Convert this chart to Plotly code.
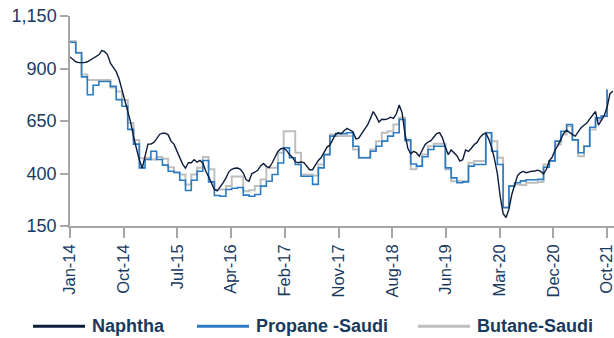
import plotly.graph_objects as go

# Tick labels along the time axis (evenly spaced, every 9.3 months from Jan-14)
tick_labels = ["Jan-14", "Oct-14", "Jul-15", "Apr-16", "Feb-17", "Nov-17",
               "Aug-18", "Jun-19", "Mar-20", "Dec-20", "Oct-21"]
tick_step_months = 9.3

# Naphtha, semi-monthly readings from Jan 2014 ($/t)
naphtha = [
    955, 945, 932, 928, 927, 928, 932, 940, 951, 955, 965, 985, 980, 965, 925, 905,
    885, 850, 800, 740, 695, 645, 575, 515, 465, 425, 490, 540, 540, 548, 565, 586,
    592, 592, 584, 554, 540, 508, 480, 445, 425, 451, 451, 466, 454, 462, 450, 412,
    385, 358, 324, 317, 334, 355, 378, 408, 420, 425, 426, 420, 402, 370, 363, 400,
    406, 415, 436, 448, 434, 428, 450, 480, 505, 518, 520, 510, 490, 478, 457, 451,
    455, 452, 432, 418, 418, 440, 462, 476, 503, 526, 535, 560, 588, 594, 590, 605,
    615, 606, 599, 565, 568, 590, 610, 630, 660, 695, 673, 645, 658, 657, 660, 668,
    662, 683, 726, 690, 590, 520, 494, 505, 498, 482, 512, 538, 550, 556, 574, 590,
    595, 570, 525, 490, 512, 500, 485, 459, 466, 512, 505, 520, 538, 548, 572, 586,
    592, 565, 525, 470, 400, 290, 210, 190, 230, 300, 350, 390, 404, 410, 404, 408,
    411, 412, 416, 410, 398, 420, 460, 478, 512, 534, 560, 592, 606, 595, 585, 578,
    598, 618, 630, 640, 660, 678, 695, 630, 650, 675, 715, 780, 792,
]

# Saudi contract prices, monthly from Jan 2014 ($/t)
propane_saudi = [
    1025, 975, 860, 775, 820, 838, 838, 815, 752, 720, 610, 540,
    427, 467, 506, 467, 440, 411, 405, 368, 319, 368, 411, 462,
    360, 295, 292, 324, 330, 333, 297, 292, 300, 340, 363, 395,
    450, 522, 475, 443, 387, 387, 348, 427, 490, 578, 590, 590,
    594, 530, 475, 475, 506, 530, 554, 578, 594, 657, 560, 445,
    435, 480, 514, 530, 530, 427, 379, 356, 360, 435, 443, 443,
    594, 506, 443, 237, 340, 356, 365, 370, 370, 372, 430, 460,
    554, 601, 633, 560, 499, 530, 620, 665, 673, 800,
]
butane_saudi = [
    1030, 975, 871, 845, 845, 845, 845, 810, 790, 750, 640, 560,
    473, 475, 467, 478, 470, 430, 405, 395, 348, 395, 427, 478,
    420, 324, 324, 340, 386, 386, 316, 320, 340, 371, 427, 427,
    499, 601, 601, 499, 395, 395, 390, 443, 490, 586, 578, 578,
    578, 514, 475, 475, 514, 554, 594, 601, 633, 665, 555, 420,
    435, 490, 530, 542, 542, 419, 363, 363, 363, 451, 459, 459,
    594, 554, 475, 240, 340, 348, 345, 356, 356, 360, 443, 460,
    538, 586, 625, 560, 482, 530, 610, 655, 673, 800,
]

y_ticks = [150, 400, 650, 900, 1150]

NAVY_TEXT = "#173a5e"
AXIS_GREY = "#a6a6a6"
C_NAPHTHA = "#0c1c3a"
C_PROPANE = "#2b7bc4"
C_BUTANE = "#bfbfbf"

x_naphtha = [i * 0.5 for i in range(len(naphtha))]
x_monthly = list(range(len(propane_saudi)))

fig = go.Figure()
fig.add_trace(go.Scatter(x=x_monthly, y=butane_saudi, mode="lines",
                         line=dict(color=C_BUTANE, width=2, shape="hv"),
                         name="Butane-Saudi"))
fig.add_trace(go.Scatter(x=x_monthly, y=propane_saudi, mode="lines",
                         line=dict(color=C_PROPANE, width=1.6, shape="hv"),
                         name="Propane -Saudi"))
fig.add_trace(go.Scatter(x=x_naphtha, y=naphtha, mode="lines",
                         line=dict(color=C_NAPHTHA, width=1.4),
                         name="Naphtha"))

tick_vals = [k * tick_step_months for k in range(len(tick_labels))]

fig.update_layout(
    width=614, height=338,
    margin=dict(l=70, r=0, t=16, b=111.5),
    paper_bgcolor="white", plot_bgcolor="white",
    showlegend=False,
    font=dict(family="Liberation Sans, Arial, sans-serif", color=NAVY_TEXT, size=16),
    xaxis=dict(
        range=[0, 94.2],
        tickmode="array", tickvals=tick_vals, ticktext=tick_labels,
        tickangle=-90, ticks="outside", ticklen=10, tickcolor=AXIS_GREY, tickwidth=1.5,
        ticklabeloverflow="allow",
        showline=True, linecolor=AXIS_GREY, linewidth=1.5,
        showgrid=False, zeroline=False,
        tickfont=dict(size=16.5, color=NAVY_TEXT),
    ),
    yaxis=dict(
        range=[150, 1150],
        tickmode="array", tickvals=y_ticks,
        ticks="outside", ticklen=8, tickcolor=AXIS_GREY, tickwidth=1.5,
        showline=True, linecolor=AXIS_GREY, linewidth=1.5,
        showgrid=False, zeroline=False,
        tickformat=",d",
        tickfont=dict(size=18, color=NAVY_TEXT),
    ),
)

# Legend row along the bottom: line sample followed by a bold label
legend_items = [("Naphtha", C_NAPHTHA, 33), ("Propane -Saudi", C_PROPANE, 197),
                ("Butane-Saudi", C_BUTANE, 418)]
legend_y = 327
for label, color, x0 in legend_items:
    fig.add_shape(type="line", xref="paper", yref="paper",
                  x0=(x0 - 70) / 544, x1=(x0 + 52 - 70) / 544,
                  y0=(226.5 - legend_y) / 210.5, y1=(226.5 - legend_y) / 210.5,
                  line=dict(color=color, width=3))
    fig.add_annotation(xref="paper", yref="paper",
                       x=(x0 + 57 - 70) / 544, y=(226.5 - legend_y) / 210.5,
                       xanchor="left", yanchor="middle", showarrow=False,
                       text="<b>" + label + "</b>",
                       font=dict(size=18, color=NAVY_TEXT))

fig.write_html("out.html")
